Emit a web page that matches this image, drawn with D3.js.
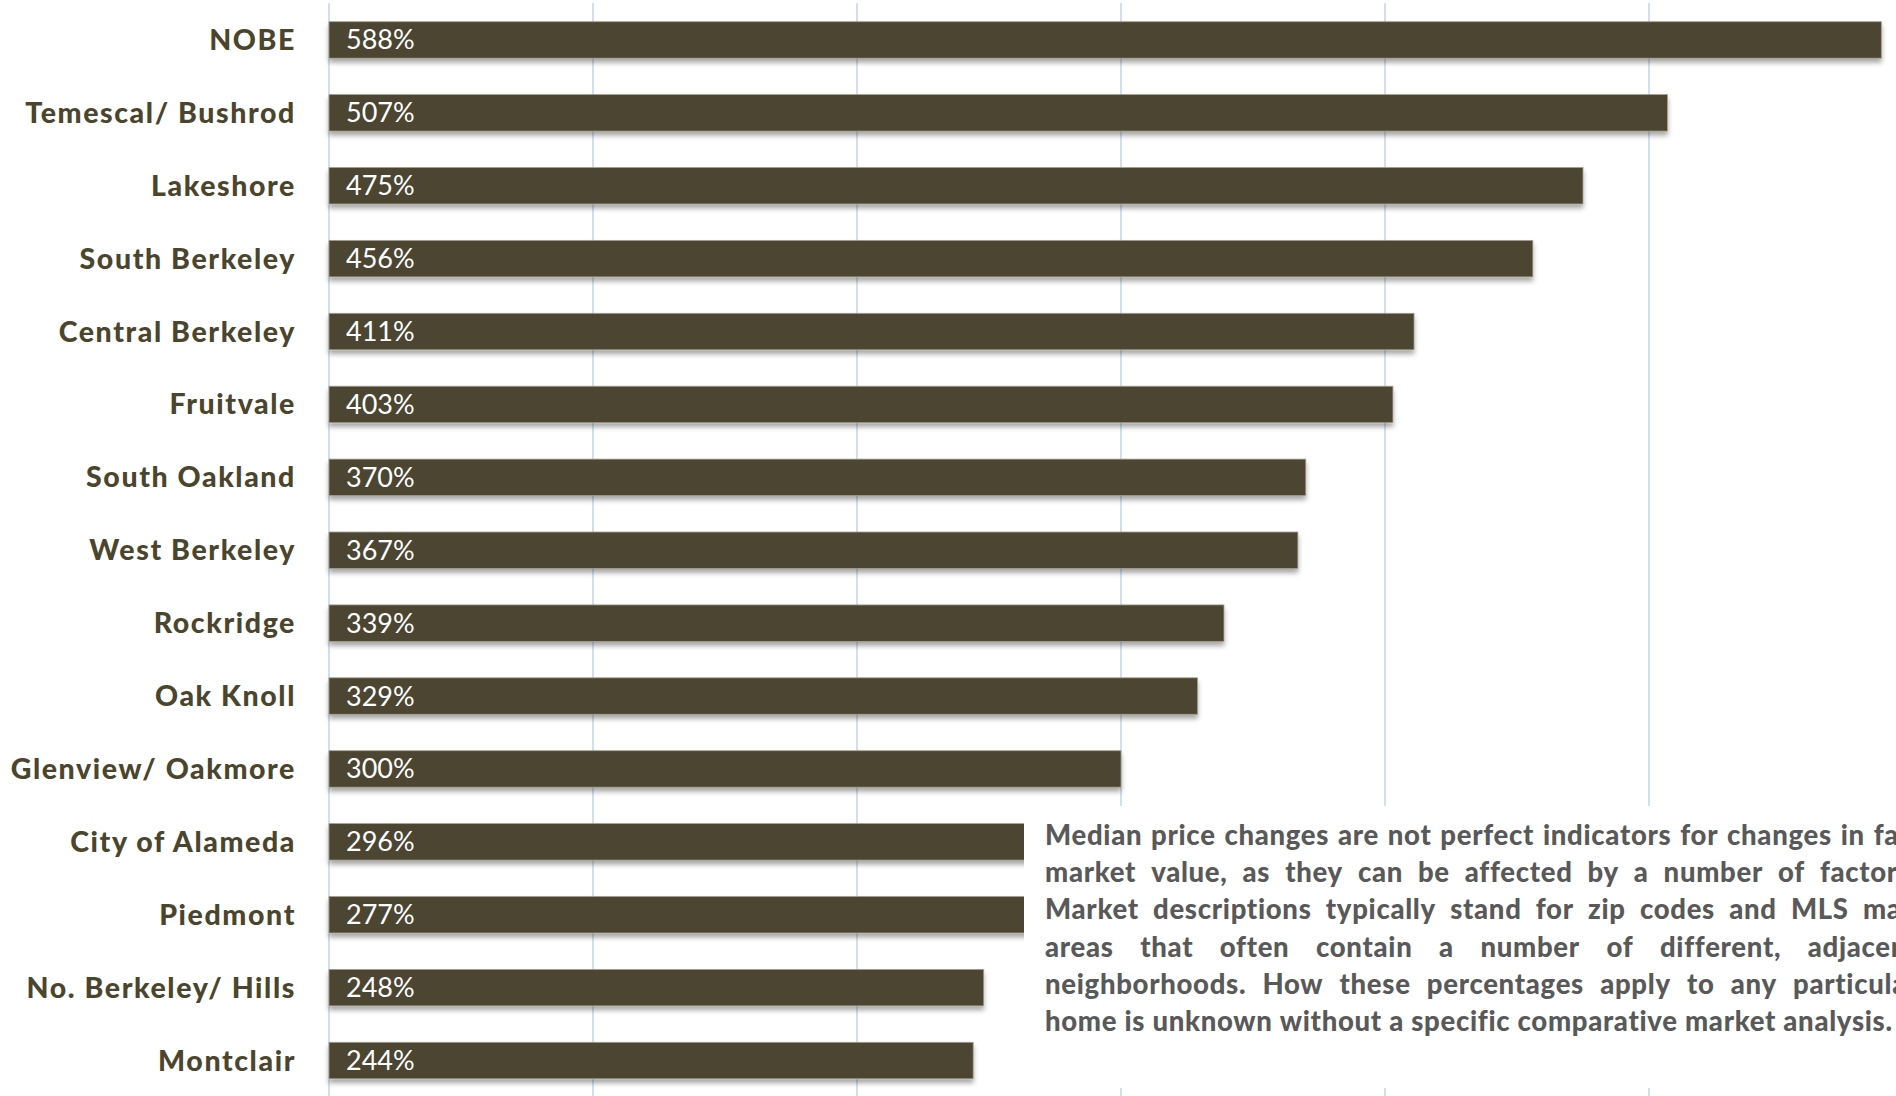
<!DOCTYPE html>
<html>
<head>
<meta charset="utf-8">
<script src="https://cdn.jsdelivr.net/npm/d3@7"></script>
<style>
  html, body { margin: 0; padding: 0; background: #ffffff; }
  svg { display: block; }
</style>
</head>
<body>
<svg id="chart" width="1896" height="1096"></svg>
<script>
// Neighbourhoods, ranked by median price change
const categories = [
  "NOBE", "Temescal/ Bushrod", "Lakeshore", "South Berkeley", "Central Berkeley",
  "Fruitvale", "South Oakland", "West Berkeley", "Rockridge", "Oak Knoll",
  "Glenview/ Oakmore", "City of Alameda", "Piedmont", "No. Berkeley/ Hills", "Montclair"
];
// Median price change, percent
const values = [588, 507, 475, 456, 411, 403, 370, 367, 339, 329, 300, 296, 277, 248, 244];
// Vertical gridline positions, percent
const gridTicks = [0, 100, 200, 300, 400, 500, 600];
// Footnote, one entry per printed line
const noteLines = [
  "Median price changes are not perfect indicators for changes in fair",
  "market value, as they can be affected by a number of factors.",
  "Market descriptions typically stand for zip codes and MLS map",
  "areas that often contain a number of different, adjacent",
  "neighborhoods. How these percentages apply to any particular",
  "home is unknown without a specific comparative market analysis."
];

const svg = d3.select("#chart");
const barColor = "#4b4530";
const labelColor = "#4a452c";

const x = d3.scaleLinear().domain([0, 600]).range([329, 1913]);
const y = d3.scaleBand().domain(categories).range([3.5, 1097])
  .paddingInner(0.5).paddingOuter(0.25);

// soft shadow under each bar
const defs = svg.append("defs");
const f = defs.append("filter").attr("id", "barShadow")
  .attr("x", "-5%").attr("y", "-40%").attr("width", "110%").attr("height", "200%");
f.append("feDropShadow").attr("dx", 0).attr("dy", 4).attr("stdDeviation", 2.5)
  .attr("flood-color", "#000").attr("flood-opacity", 0.35);

// gridlines
svg.append("g").selectAll("line").data(gridTicks).join("line")
  .attr("x1", d => x(d)).attr("x2", d => x(d))
  .attr("y1", 3).attr("y2", 1096)
  .attr("stroke", "#d3dfef").attr("stroke-width", 2);

// bars
svg.append("g").selectAll("rect").data(values).join("rect")
  .attr("x", x(0))
  .attr("y", (d, i) => y(categories[i]))
  .attr("width", d => x(d) - x(0))
  .attr("height", y.bandwidth())
  .attr("fill", barColor)
  .attr("stroke", "#a39e8e").attr("stroke-width", 0.8)
  .attr("filter", "url(#barShadow)");

// value labels inside the bars
svg.append("g").selectAll("text").data(values).join("text")
  .attr("x", x(0) + 17)
  .attr("y", (d, i) => y(categories[i]) + y.bandwidth() / 2 + 9.5)
  .attr("font-family", "Lato, 'Open Sans', sans-serif")
  .attr("font-size", 27)
  .attr("fill", "#ffffff")
  .text(d => d + "%");

// category labels
svg.append("g").selectAll("text").data(categories).join("text")
  .attr("x", 296)
  .attr("y", d => y(d) + y.bandwidth() / 2 + 10)
  .attr("text-anchor", "end")
  .attr("font-family", "Lato, 'Open Sans', sans-serif")
  .attr("font-weight", 900)
  .attr("font-size", 28.5)
  .attr("letter-spacing", 1.6)
  .attr("fill", labelColor)
  .text(d => d);

// footnote box
const noteX = 1045, noteY = 845, noteLead = 37.2, noteWidth = 873;
svg.append("rect")
  .attr("x", 1024).attr("y", 806).attr("width", 900).attr("height", 282)
  .attr("fill", "#ffffff");

const note = svg.append("g")
  .attr("font-family", "Lato, 'Open Sans', sans-serif")
  .attr("font-weight", 900)
  .attr("font-size", 27.5)
  .attr("letter-spacing", 0.7)
  .attr("fill", "#595959");

const spaceW = (() => {
  const t = note.append("text").text("a a");
  const t2 = note.append("text").text("aa");
  const s = t.node().getComputedTextLength() - t2.node().getComputedTextLength();
  t.remove(); t2.remove();
  return s;
})();

noteLines.forEach((line, li) => {
  const words = line.split(" ");
  const ty = noteY + li * noteLead;
  const nodes = words.map(w => note.append("text").attr("y", ty).text(w));
  const widths = nodes.map(n => n.node().getComputedTextLength());
  const total = d3.sum(widths);
  const last = li === noteLines.length - 1;
  const gap = last ? spaceW : Math.max(spaceW * 0.8, (noteWidth - total) / (words.length - 1));
  let cx = noteX;
  nodes.forEach((n, i) => {
    n.attr("x", cx);
    cx += widths[i] + gap;
  });
});
</script>
</body>
</html>
